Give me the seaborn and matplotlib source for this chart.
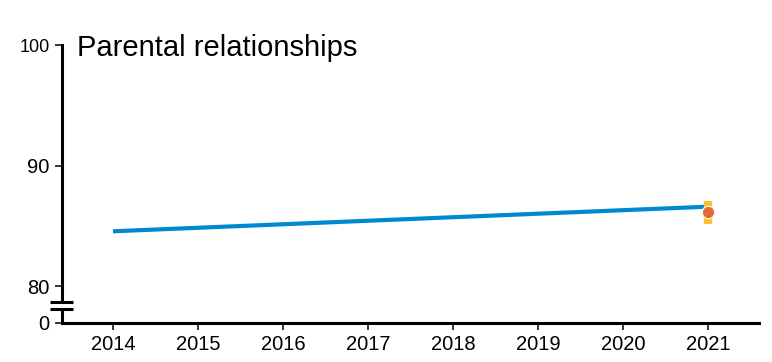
import matplotlib
matplotlib.use("Agg")
import matplotlib.pyplot as plt
import matplotlib.transforms as mtransforms
import seaborn as sns
import pandas as pd

# Trend line endpoints and the 2021 survey estimate
trend_years = [2014, 2021]
trend_values = [84.56, 86.6]

point_year = [2021]
point_value = [86.12]
point_low = [85.2]
point_high = [87.05]

year_ticks = [2014, 2015, 2016, 2017, 2018, 2019, 2020, 2021]
y_ticks = [77, 80, 90, 100]
y_tick_labels = ["0", "80", "90", "100"]

title = "Parental relationships"

BLUE = "#0089D0"
ORANGE = "#E1693A"
YELLOW = "#FBC02D"

sns.set_theme(style="white")
plt.rcParams["font.family"] = ["Liberation Sans", "DejaVu Sans"]

fig = plt.figure(figsize=(7.72, 3.62), dpi=100)
ax = fig.add_axes([62 / 772, 1 - 322.5 / 362, 697 / 772, 277.5 / 362])

trend = pd.DataFrame({"year": trend_years, "value": trend_values})
sns.lineplot(data=trend, x="year", y="value", color=BLUE, linewidth=3.0, ax=ax,
             solid_capstyle="butt", zorder=3)

# Confidence interval as a wide bar behind the marker
ax.vlines(point_year, point_low, point_high, colors=YELLOW, linewidth=6.0, zorder=4)
pts = pd.DataFrame({"year": point_year, "value": point_value})
sns.scatterplot(data=pts, x="year", y="value", color=ORANGE, s=80,
                edgecolor="white", linewidth=0.8, ax=ax, zorder=5)

ax.set_xlim(2013.4, 2021.6)
ax.set_ylim(77, 100)
ax.set_xticks(year_ticks)
ax.set_xticklabels([str(y) for y in year_ticks])
ax.set_yticks(y_ticks)
ax.set_yticklabels(y_tick_labels)
ax.set_xlabel("")
ax.set_ylabel("")

ax.tick_params(axis="x", direction="out", length=5, width=1.1, labelsize=14.5,
               pad=4, colors="black", bottom=True)
ax.tick_params(axis="y", direction="out", length=5, width=1.1, labelsize=14.5,
               pad=4, colors="black", left=True)
for lab in ax.get_yticklabels():
    if lab.get_text() == "100":
        lab.set_fontsize(13)

for side in ["top", "right"]:
    ax.spines[side].set_visible(False)
ax.spines["bottom"].set_color("black")
ax.spines["bottom"].set_linewidth(2.2)
ax.spines["left"].set_color("black")
ax.spines["left"].set_linewidth(2.2)

# Broken y axis between 0 and 80
brk_hi, brk_lo = 78.67, 78.09
ax.spines["left"].set_bounds(brk_hi, 100)
trans = mtransforms.blended_transform_factory(ax.transAxes, ax.transData)
ax.plot([0, 0], [77, brk_lo], color="black", linewidth=2.2, transform=trans,
        clip_on=False, solid_capstyle="butt")
for yb in (brk_hi, brk_lo):
    ax.plot([-12 / 697, 11 / 697], [yb, yb], color="black", linewidth=2.2,
            transform=trans, clip_on=False, solid_capstyle="butt")

ax.text(0.0215, 0.960, title, transform=ax.transAxes, fontsize=21,
        ha="left", va="baseline", color="black")

fig.savefig("out.png", dpi=100)
